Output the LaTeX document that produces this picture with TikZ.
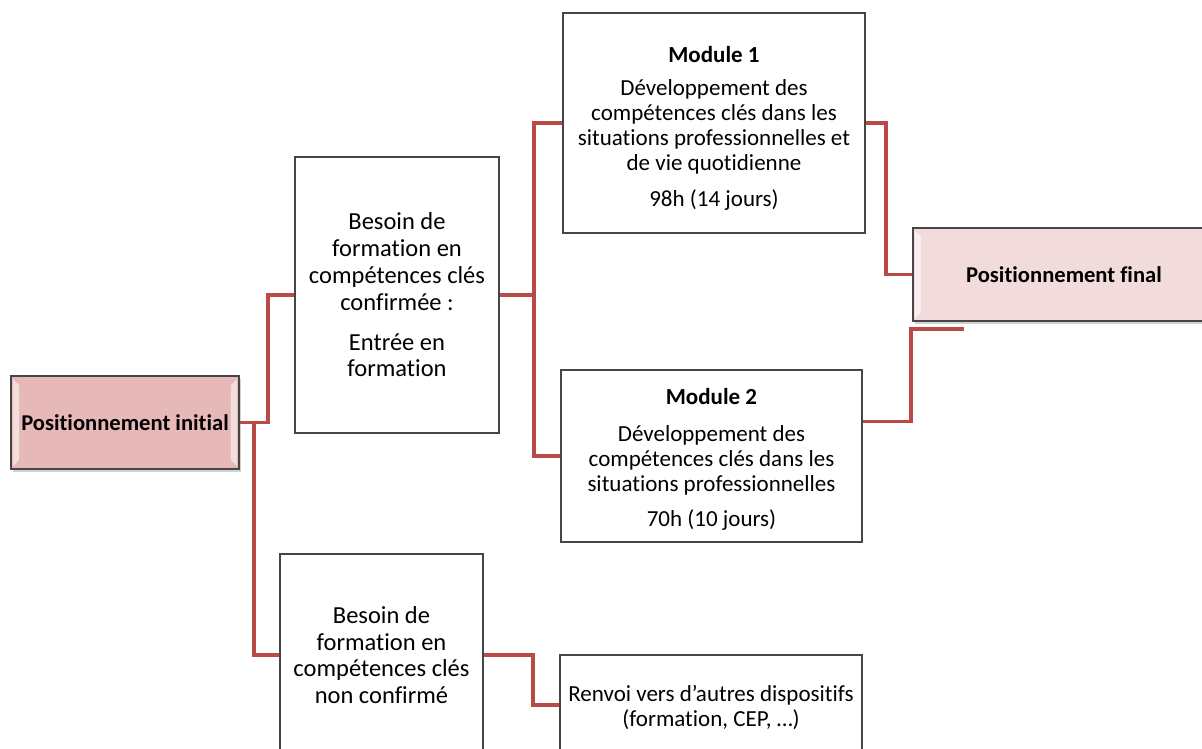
\documentclass[tikz,border=0pt]{standalone}
\usepackage{fontspec}
\setmainfont[Ligatures=NoCommon]{Carlito}
\usetikzlibrary{calc}
\definecolor{connred}{RGB}{186,74,72}
\definecolor{boxgray}{RGB}{70,70,70}
\definecolor{pinkdark}{RGB}{230,184,183}
\definecolor{pinklight}{RGB}{242,220,219}
\begin{document}
\begin{tikzpicture}[x=1pt,y=-1pt,
  box/.style={draw=boxgray, line width=1.8pt, fill=white, align=center, inner sep=0pt, text=black},
  txtm/.style={font=\fontsize{23}{25}\selectfont, align=center, text=black, inner sep=0pt},
  txtb/.style={font=\fontsize{24.5}{26.8}\selectfont},
  endbox/.style={box, font=\bfseries\fontsize{22.6}{26}\selectfont, minimum height=93pt},
  conn/.style={draw=connred, line width=3.6pt, line join=miter}]
\useasboundingbox (0,0) rectangle (1202,749);
\clip (0,0) rectangle (1202,749);
% shadows of end boxes
\fill[black!18] (13,379) rectangle (241,472);
\fill[black!18] (915,231) rectangle (1217,324);
% nodes
\node[endbox, fill=pinkdark, minimum width=228pt] (pi) at (125,422.5) {Positionnement initial};
\node[endbox, fill=pinklight, minimum width=302pt] (pf) at (1064,274.5) {Positionnement final};
% bevel highlights
\foreach \n in {pi,pf}{
  \fill[white,opacity=0.55] ([shift={(3,4)}]\n.north west) -- ([shift={(9,10)}]\n.north west) -- ([shift={(9,-10)}]\n.south west) -- ([shift={(3,-4)}]\n.south west) -- cycle;
  \fill[white,opacity=0.55] ([shift={(-3,4)}]\n.north east) -- ([shift={(-9,10)}]\n.north east) -- ([shift={(-9,-10)}]\n.south east) -- ([shift={(-3,-4)}]\n.south east) -- cycle;
}
\node[box, txtb, minimum width=204pt, minimum height=276pt] (b1) at (397,295)
  {Besoin de\\ formation en\\ compétences clés\\ confirmée :\\[13pt] Entrée en\\ formation};
\node[box, txtb, minimum width=203pt, minimum height=202pt] (b2) at (381.5,655)
  {Besoin de\\ formation en\\ compétences clés\\ non confirmé};
\node[box, minimum width=302pt, minimum height=220pt] (m1) at (714,123) {};
\node[txtm] (m1t) at ([yshift=-5pt]m1.center)
  {\textbf{Module 1}\\[8pt] Développement des\\ compétences clés dans les\\ situations professionnelles et\\ de vie quotidienne\\[11pt] 98h (14 jours)};
\node[box, minimum width=301pt, minimum height=172pt] (m2) at (711.5,456) {};
\node[txtm] (m2t) at ([yshift=-3pt]m2.center)
  {\textbf{Module 2}\\[12pt] Développement des\\ compétences clés dans les\\ situations professionnelles\\[10pt] 70h (10 jours)};
\node[box, minimum width=302pt, minimum height=100pt] (rv) at (711,705) {};
\node[txtm] (rvt) at ([yshift=-2pt]rv.center)
  {Renvoi vers d’autres dispositifs\\ (formation, CEP, …)};
% connectors
\draw[conn] (pi.east) -- ++(28,0) |- (b1.west);
\draw[conn] (pi.east) -- ++(14,0) |- (b2.west);
\draw[conn] (b1.east) -- ++(34,0) |- (m1.west);
\draw[conn] (b1.east) -- ++(34,0) |- (m2.west);
\draw[conn] (m1.east) -- ++(20,0) |- (pf.west);
\coordinate (m2out) at ($(m2.north east)!0.302!(m2.south east)$);
\coordinate (fe) at ([shift={(52,7)}]pf.south west);
\draw[conn] (m2out) -| ([xshift=-53]fe) -- (fe);
\draw[conn] (b2.east) -- ++(49,0) |- (rv.west);
\end{tikzpicture}
\end{document}
